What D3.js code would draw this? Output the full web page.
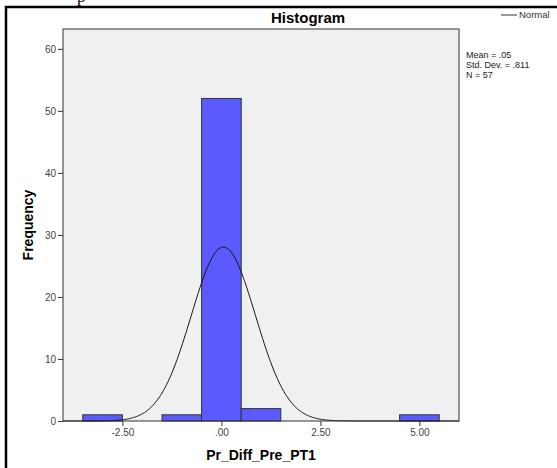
<!DOCTYPE html>
<html>
<head>
<meta charset="utf-8">
<script src="https://cdn.jsdelivr.net/npm/d3@7"></script>
<style>
  body { margin: 0; background: #fff; }
  svg { display: block; font-family: Arial, "Liberation Sans", sans-serif; }
</style>
</head>
<body>
<svg id="chart" width="557" height="468"></svg>
<script>
// histogram bins (left edge, count) - bin width 1
let binStarts = [-3.5, -1.5, -0.5, 0.5, 4.5];
let binCounts = [1, 1, 52, 2, 1];
let binWidth = 1;

let xTicks = [-2.5, 0, 2.5, 5];
let xTickLabels = ["-2.50", ".00", "2.50", "5.00"];
let yTicks = [0, 10, 20, 30, 40, 50, 60];

let statMean = 0.05;
let statSd = 0.811;
let statN = 57;
let statLines = ["Mean = .05", "Std. Dev. = .811", "N = 57"];

let svg = d3.select("#chart");

let plotLeft = 63, plotRight = 459, plotTop = 29, plotBottom = 421;

let x = d3.scaleLinear().domain([-4, 6]).range([plotLeft, plotRight]);
let y = d3.scaleLinear().domain([0, 63.2]).range([plotBottom, plotTop]);

// outer frame (left + top)
svg.append("path")
  .attr("d", "M6,468 V7 H557")
  .attr("fill", "none")
  .attr("stroke", "#000")
  .attr("stroke-width", 2.5);

// cut off text from above
svg.append("text")
  .attr("x", 77)
  .attr("y", 2)
  .attr("font-family", "'Liberation Serif', 'Times New Roman', serif")
  .attr("font-size", 17)
  .text("p");

// plot background
svg.append("rect")
  .attr("x", plotLeft)
  .attr("y", plotTop)
  .attr("width", plotRight - plotLeft)
  .attr("height", plotBottom - plotTop)
  .attr("fill", "#f0f0f0")
  .attr("stroke", "none");

// bars
svg.append("g")
  .selectAll("rect")
  .data(binStarts.map((s, i) => ({ start: s, count: binCounts[i] })))
  .join("rect")
  .attr("x", (d) => x(d.start))
  .attr("y", (d) => y(d.count))
  .attr("width", (d) => x(d.start + binWidth) - x(d.start))
  .attr("height", (d) => y(0) - y(d.count))
  .attr("fill", "#5a5aff")
  .attr("stroke", "#333")
  .attr("stroke-width", 1);

// normal curve
let normalPts = d3.range(-4, 6.001, 0.02).map((v) => {
  let z = (v - statMean) / statSd;
  let dens = Math.exp(-0.5 * z * z) / (statSd * Math.sqrt(2 * Math.PI));
  return [v, dens * statN * binWidth];
});
svg.append("path")
  .datum(normalPts)
  .attr("d", d3.line().x((d) => x(d[0])).y((d) => y(d[1])))
  .attr("fill", "none")
  .attr("stroke", "#111")
  .attr("stroke-width", 1);

// plot frame
svg.append("rect")
  .attr("x", plotLeft)
  .attr("y", plotTop)
  .attr("width", plotRight - plotLeft)
  .attr("height", plotBottom - plotTop)
  .attr("fill", "none")
  .attr("stroke", "#333")
  .attr("stroke-width", 1);

// axes
let yAxis = svg.append("g")
  .attr("transform", `translate(${plotLeft},0)`)
  .call(d3.axisLeft(y).tickValues(yTicks).tickSize(5).tickPadding(2));
let xAxis = svg.append("g")
  .attr("transform", `translate(0,${plotBottom})`)
  .call(d3.axisBottom(x).tickValues(xTicks).tickSize(5).tickPadding(3)
    .tickFormat((d, i) => xTickLabels[i]));
[yAxis, xAxis].forEach((a) => {
  a.select(".domain").remove();
  a.selectAll("line").attr("stroke", "#333");
  a.selectAll("text")
    .attr("fill", "#444")
    .attr("font-size", 10)
    .attr("font-family", "Arial, 'Liberation Sans', sans-serif");
});

// title
svg.append("text")
  .attr("x", 308)
  .attr("y", 23)
  .attr("text-anchor", "middle")
  .attr("font-size", 15)
  .attr("font-weight", "bold")
  .text("Histogram");

// axis titles
svg.append("text")
  .attr("x", (plotLeft + plotRight) / 2)
  .attr("y", 460)
  .attr("text-anchor", "middle")
  .attr("font-size", 14)
  .attr("font-weight", "bold")
  .text("Pr_Diff_Pre_PT1");

svg.append("text")
  .attr("transform", `translate(33,${(plotTop + plotBottom) / 2}) rotate(-90)`)
  .attr("text-anchor", "middle")
  .attr("font-size", 14)
  .attr("font-weight", "bold")
  .text("Frequency");

// legend
svg.append("line")
  .attr("x1", 501).attr("x2", 517)
  .attr("y1", 15).attr("y2", 15)
  .attr("stroke", "#555")
  .attr("stroke-width", 1.2);
svg.append("text")
  .attr("x", 519)
  .attr("y", 18)
  .attr("font-size", 9.5)
  .attr("fill", "#333")
  .text("Normal");

// stats
svg.append("g")
  .selectAll("text")
  .data(statLines)
  .join("text")
  .attr("x", 466)
  .attr("y", (d, i) => 58 + i * 10)
  .attr("font-size", 9)
  .attr("fill", "#222")
  .text((d) => d);
</script>
</body>
</html>
